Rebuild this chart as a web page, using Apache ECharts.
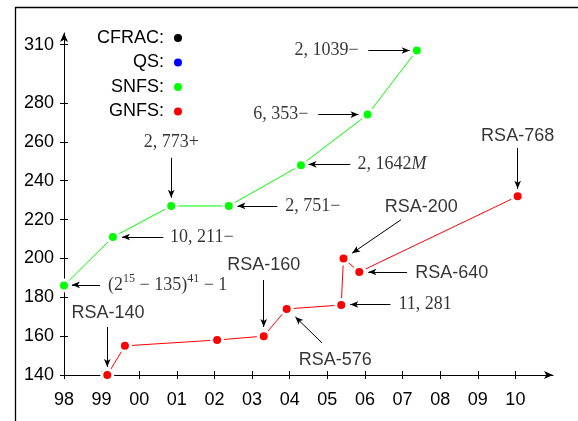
<!DOCTYPE html>
<html>
<head>
<meta charset="utf-8">
<script src="https://cdn.jsdelivr.net/npm/echarts@6/dist/echarts.min.js"></script>
<style>
  html, body { margin: 0; padding: 0; background: #fff; }
  #chart { width: 578px; height: 421px; }
</style>
</head>
<body>
<div id="chart"></div>
<script>
// tick labels
const yearTicks = [1998, 1999, 2000, 2001, 2002, 2003, 2004, 2005, 2006, 2007, 2008, 2009, 2010];
const digitTicks = [140, 160, 180, 200, 220, 240, 260, 280, 310];

// SNFS records (year, digits)
const snfsYear = [1998.0, 1999.30, 2000.85, 2002.38, 2004.30, 2006.07, 2007.38];
const snfsDigits = [186, 211, 227, 227, 248, 274, 307];

// GNFS records (year, digits)
const gnfsYear = [1999.15, 1999.62, 2002.07, 2003.31, 2003.92, 2005.37, 2005.43, 2005.85, 2010.06];
const gnfsDigits = [140, 155, 158, 160, 174, 176, 200, 193, 232];

// annotations: text, where the text sits, its alignment, arrow start and arrow tip
const annText = [
  '{m|2, 1039−}', '{m|6, 353−}', '{m|2, 773+}', '{m|10, 211−}', '{m|2, 751−}',
  '{m|2, 1642}{i|M}', '{m|(2}{sup|15}{m| − 135)}{sup|41}{m| − 1}',
  'RSA-140', 'RSA-160', 'RSA-576', '{m|11, 281}', 'RSA-200', 'RSA-640', 'RSA-768'
];
const annAt = [
  [2005.83, 307], [2004.50, 274], [2000.85, 260], [2000.82, 211], [2003.88, 227],
  [2005.80, 248.4], [1999.17, 186.4],
  [1999.17, 172.1], [2003.31, 196.7], [2005.21, 147.8], [2006.89, 176.3],
  [2007.50, 226.6], [2007.34, 192.7], [2010.06, 263.1]
];
const annAlign = [
  'right', 'right', 'center', 'left', 'left', 'left', 'left',
  'center', 'center', 'center', 'left', 'center', 'left', 'center'
];
const arrowFrom = [
  [2006.09, 307], [2004.76, 274], [2000.85, 251.8], [2000.64, 211], [2003.67, 227],
  [2005.61, 248.4], [1998.96, 186.4],
  [1999.15, 164.7], [2003.31, 188.9], [2004.86, 156.5], [2006.68, 176.3],
  [2006.96, 219.9], [2007.12, 193], [2010.06, 256.9]
];
const arrowTo = [
  [2007.19, 307], [2005.83, 274], [2000.85, 231.2], [1999.54, 211], [2002.61, 227],
  [2004.50, 248.4], [1998.21, 186.4],
  [1999.15, 144.1], [2003.31, 164.7], [2004.15, 169.9], [2005.61, 176.3],
  [2005.66, 202.7], [2006.09, 193], [2010.06, 235.8]
];

const sans = 'Liberation Sans';
const serif = 'Liberation Serif';

function zip(xs, ys) {
  return xs.map((x, i) => [x, ys[i]]);
}

let chart = echarts.init(document.getElementById('chart'));

let pointStyle = function (color) {
  return { color: color, borderColor: '#fff', borderWidth: 3 };
};

let option = {
  animation: false,
  graphic: [{
    type: 'rect',
    z: -10,
    shape: { x: 15.5, y: 7.5, width: 700, height: 600 },
    style: { fill: 'none', stroke: '#000', lineWidth: 1.3 }
  }],
  legend: {
    data: ['CFRAC', 'QS', 'SNFS', 'GNFS'],
    orient: 'vertical',
    align: 'right',
    left: 92,
    top: 24,
    itemGap: 6.5,
    itemWidth: 8,
    itemHeight: 8,
    icon: 'circle',
    selectedMode: false,
    itemStyle: { borderWidth: 0 },
    formatter: function (name) { return name + ':'; },
    textStyle: { fontFamily: sans, fontSize: 18, color: '#000', lineHeight: 18, padding: [0, 5, 0, 0] }
  },
  grid: { left: 64, right: 25, top: 33, bottom: 46, outerBoundsMode: 'none' },
  xAxis: [{
    type: 'value',
    min: 1998,
    max: 2011,
    position: 'bottom',
    axisLine: { onZero: false, symbol: ['none', 'arrow'], symbolSize: [6, 9], lineStyle: { color: '#000', width: 1 } },
    axisTick: { customValues: yearTicks, length: 4, lineStyle: { color: '#000' } },
    axisLabel: {
      customValues: yearTicks,
      margin: 16,
      fontFamily: sans, fontSize: 18, color: '#000',
      formatter: function (v) { return ('0' + (v % 100)).slice(-2); }
    },
    splitLine: { show: false }
  }, {
    type: 'value',
    min: 1998,
    max: 2011,
    position: 'bottom',
    axisLine: { show: false, onZero: false },
    axisTick: { inside: true, customValues: yearTicks, length: 4, lineStyle: { color: '#000' } },
    axisLabel: { show: false },
    splitLine: { show: false }
  }],
  yAxis: [{
    type: 'value',
    min: 140,
    max: 316,
    position: 'left',
    axisLine: { show: true, onZero: false, symbol: ['none', 'arrow'], symbolSize: [6, 9], lineStyle: { color: '#000', width: 1 } },
    axisTick: { show: true, customValues: digitTicks, length: 4, lineStyle: { color: '#000' } },
    axisLabel: { customValues: digitTicks, margin: 10, fontFamily: sans, fontSize: 18, color: '#000' },
    splitLine: { show: false }
  }, {
    type: 'value',
    min: 140,
    max: 316,
    position: 'left',
    axisLine: { show: false, onZero: false },
    axisTick: { show: true, inside: true, customValues: digitTicks, length: 4, lineStyle: { color: '#000' } },
    axisLabel: { show: false },
    splitLine: { show: false }
  }],
  series: [
    { name: 'CFRAC', type: 'line', data: [], itemStyle: { color: '#000' } },
    { name: 'QS', type: 'line', data: [], itemStyle: { color: '#0000ff' } },
    {
      name: 'SNFS',
      type: 'line',
      data: zip(snfsYear, snfsDigits),
      symbol: 'circle',
      symbolSize: 11,
      itemStyle: pointStyle('#00ff00'),
      lineStyle: { color: '#00ff00', width: 1 },
      z: 3
    },
    {
      name: 'GNFS',
      type: 'line',
      data: zip(gnfsYear, gnfsDigits),
      symbol: 'circle',
      symbolSize: 11,
      itemStyle: pointStyle('#ff0000'),
      lineStyle: { color: '#ff0000', width: 1 },
      z: 3
    },
    {
      name: 'notes',
      type: 'scatter',
      silent: true,
      symbol: 'circle',
      symbolSize: 1,
      itemStyle: { color: 'rgba(0,0,0,0)' },
      data: annAt.map(function (p, i) {
        return { value: p, label: { align: annAlign[i] } };
      }),
      label: {
        show: true,
        position: 'inside',
        verticalAlign: 'middle',
        color: '#000',
        fontFamily: sans,
        fontSize: 18,
        formatter: function (p) { return annText[p.dataIndex]; },
        rich: {
          m: { fontFamily: serif, fontSize: 18, color: '#000', lineHeight: 24, verticalAlign: 'middle' },
          i: { fontFamily: serif, fontSize: 18, fontStyle: 'italic', color: '#000', lineHeight: 24, verticalAlign: 'middle' },
          sup: { fontFamily: serif, fontSize: 12, color: '#000', verticalAlign: 'top' }
        }
      },
      markLine: {
        silent: true,
        symbol: ['none', 'arrow'],
        symbolSize: [5, 8],
        lineStyle: { color: '#000', width: 1, type: 'solid' },
        label: { show: false },
        data: arrowFrom.map(function (a, i) {
          return [{ coord: a }, { coord: arrowTo[i] }];
        })
      }
    }
  ]
};

chart.setOption(option);
</script>
</body>
</html>
